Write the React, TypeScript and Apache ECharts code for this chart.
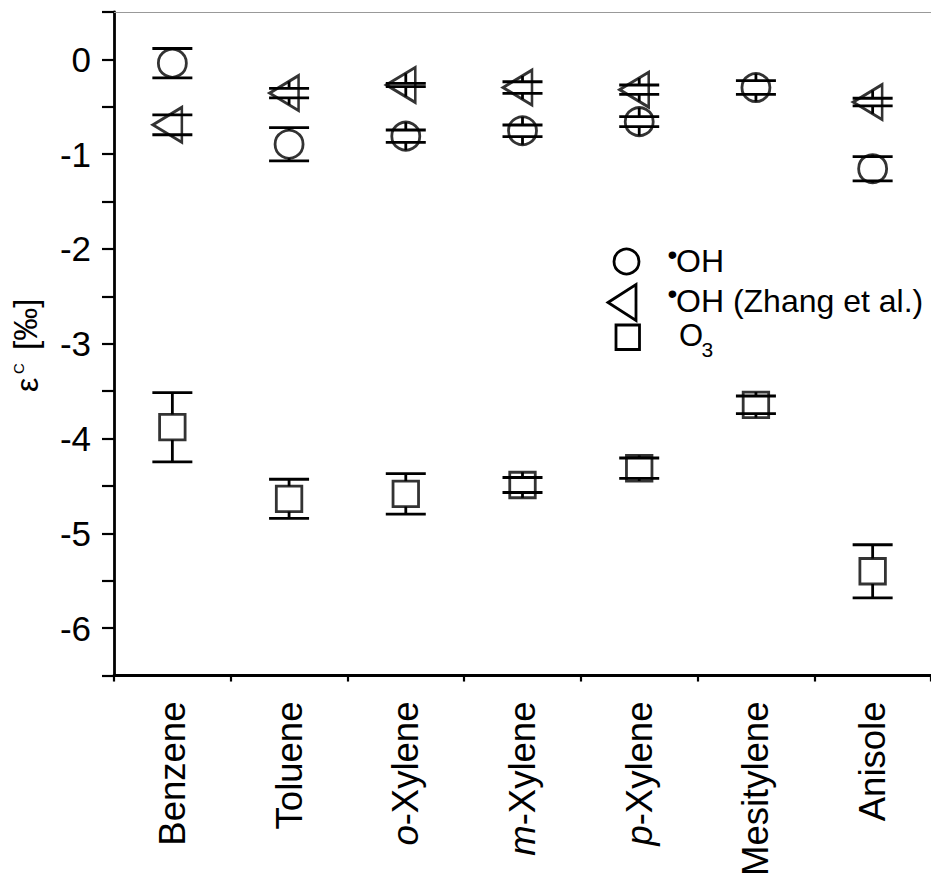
import React, { useEffect, useRef } from "react";
import * as echarts from "echarts";

const CATEGORIES = ["Benzene", "Toluene", "o-Xylene", "m-Xylene", "p-Xylene", "Mesitylene", "Anisole"];

const OH_VALUES = [-0.04, -0.895, -0.81, -0.753, -0.657, -0.297, -1.153];
const OH_ERRORS = [0.155, 0.175, 0.065, 0.061, 0.053, 0.072, 0.128];

const ZHANG_VALUES: (number | null)[] = [-0.69, -0.355, -0.27, -0.297, -0.32, null, -0.45];
const ZHANG_ERRORS: (number | null)[] = [0.105, 0.05, 0.018, 0.061, 0.05, null, 0.04];

const O3_VALUES = [-3.88, -4.636, -4.583, -4.49, -4.313, -3.644, -5.4];
const O3_ERRORS = [0.365, 0.207, 0.214, 0.079, 0.108, 0.093, 0.28];

const Y_MIN = -6.5;
const Y_MAX = 0.5;
const Y_STEP = 0.5;

const FONT = "Liberation Sans, Arial, sans-serif";
const TRIANGLE = "path://M0,10L20,0L20,20Z";
const LW = 2.8;

function pairs(values: (number | null)[], errors: (number | null)[]) {
  return values
    .map((v, i) => [i, v, errors[i]] as [number, number | null, number | null])
    .filter((d) => d[1] !== null);
}

function errorSeries(values: (number | null)[], errors: (number | null)[], half: number) {
  return {
    type: "custom",
    data: pairs(values, errors),
    encode: { x: 0, y: 1 },
    z: 2,
    renderItem: (params: any, api: any) => {
      const x = api.value(0);
      const v = api.value(1);
      const e = api.value(2);
      const c = api.coord([x, v]);
      const top = api.coord([x, v + e]);
      const bot = api.coord([x, v - e]);
      const cap = 20;
      const st = { stroke: "#000", lineWidth: LW, fill: null };
      return {
        type: "group",
        children: [
          { type: "line", shape: { x1: c[0] - cap, y1: top[1], x2: c[0] + cap, y2: top[1] }, style: st },
          { type: "line", shape: { x1: c[0] - cap, y1: bot[1], x2: c[0] + cap, y2: bot[1] }, style: st },
          { type: "line", shape: { x1: c[0], y1: top[1], x2: c[0], y2: c[1] - half }, style: st },
          { type: "line", shape: { x1: c[0], y1: bot[1], x2: c[0], y2: c[1] + half }, style: st },
        ],
      };
    },
  };
}

const markerStyle = { color: "rgba(0,0,0,0)", borderColor: "#000", borderWidth: LW };

function txt(text: string, x: number, y: number, fontSize: number, extra: any = {}) {
  return {
    type: "text",
    x,
    y,
    style: {
      text,
      fontSize,
      fontFamily: FONT,
      fill: "#000",
      verticalAlign: "middle",
      align: "left",
      ...extra,
    },
  };
}

export default function App() {
  const ref = useRef<HTMLDivElement>(null);
  useEffect(() => {
    if (!ref.current) return;
    const chart = echarts.init(ref.current, null, { renderer: "svg" });
    const labelRich = {
      i: { fontStyle: "italic", fontSize: 36.5, fontFamily: FONT, color: "#000" },
      r: { fontSize: 36.5, fontFamily: FONT, color: "#000" },
    };
    const tickStyle = { color: "#000", width: 2.2 };
    const stroke = { fill: "none", stroke: "#000", lineWidth: LW };
    chart.setOption({
      animation: false,
      backgroundColor: "#fff",
      grid: { left: 114, right: -9, top: 12, bottom: 202, containLabel: false },
      xAxis: [
        {
          type: "category",
          data: CATEGORIES,
          position: "bottom",
          boundaryGap: true,
          axisLine: { onZero: false, lineStyle: { color: "#000", width: LW } },
          axisTick: { alignWithLabel: true, length: 13, interval: 0, lineStyle: tickStyle },
          axisLabel: {
            interval: 0,
            rotate: 90,
            margin: 26,
            fontSize: 36.5,
            fontFamily: FONT,
            color: "#000",
            formatter: (v: string) => {
              const m = v.match(/^([omp])-(.*)$/);
              return m ? `{i|${m[1]}}{r|-${m[2]}}` : `{r|${v}}`;
            },
            rich: labelRich,
          },
          splitLine: { show: false },
        },
        {
          type: "category",
          data: CATEGORIES,
          position: "bottom",
          boundaryGap: true,
          axisLine: { show: false, onZero: false },
          axisTick: { show: true, length: 6, interval: 0, lineStyle: tickStyle },
          axisLabel: { show: false },
          splitLine: { show: false },
        },
        {
          type: "category",
          data: CATEGORIES,
          position: "top",
          boundaryGap: true,
          axisLine: { onZero: false, lineStyle: { color: "#999", width: 1 } },
          axisTick: { show: false },
          axisLabel: { show: false },
          splitLine: { show: false },
        },
      ],
      yAxis: {
        type: "value",
        min: Y_MIN,
        max: Y_MAX,
        interval: Y_STEP,
        axisLine: { show: true, onZero: false, lineStyle: { color: "#000", width: LW } },
        axisTick: { show: true, length: 12, lineStyle: tickStyle },
        axisLabel: {
          margin: 23,
          fontSize: 35,
          fontFamily: FONT,
          color: "#000",
          formatter: (v: number) => (Number.isInteger(v) ? String(v) : ""),
        },
        splitLine: { show: false },
      },
      series: [
        errorSeries(OH_VALUES, OH_ERRORS, 14),
        errorSeries(ZHANG_VALUES, ZHANG_ERRORS, 11.7),
        errorSeries(O3_VALUES, O3_ERRORS, 12.75),
        {
          type: "scatter",
          name: "•OH",
          data: pairs(OH_VALUES, OH_ERRORS).map((d) => [d[0], d[1]]),
          symbol: "circle",
          symbolSize: 28,
          itemStyle: markerStyle,
          z: 3,
        },
        {
          type: "scatter",
          name: "•OH (Zhang et al.)",
          data: pairs(ZHANG_VALUES, ZHANG_ERRORS).map((d) => [d[0], d[1]]),
          symbol: TRIANGLE,
          symbolSize: [29, 35],
          symbolOffset: [-5, 0],
          itemStyle: markerStyle,
          z: 3,
        },
        {
          type: "scatter",
          name: "O3",
          data: pairs(O3_VALUES, O3_ERRORS).map((d) => [d[0], d[1]]),
          symbol: "rect",
          symbolSize: 25.5,
          itemStyle: markerStyle,
          z: 3,
        },
      ],
      graphic: [
        // y-axis title, rotated to read bottom-to-top
        {
          type: "group",
          x: 0,
          y: 392,
          rotation: Math.PI / 2,
          children: [
            txt("ε", 0, 27, 32),
            txt("C", 18, 18, 15),
            txt("[‰]", 42, 25.6, 33),
          ],
        },
        // legend
        { type: "circle", shape: { cx: 626.5, cy: 261.5, r: 12.5 }, style: stroke },
        { type: "polygon", shape: { points: [[608, 302.5], [636, 284.5], [636, 320.5]] }, style: stroke },
        { type: "rect", shape: { x: 616, y: 325, width: 23.5, height: 24.5 }, style: stroke },
        txt("•", 672.5, 254, 28, { align: "center" }),
        txt("OH", 676, 261.2, 32),
        txt("•", 672.5, 293, 28, { align: "center" }),
        txt("OH (Zhang et al.)", 676, 300.8, 32),
        txt("O", 679, 335, 31),
        txt("3", 701.5, 349.2, 21),
      ],
    });
    return () => chart.dispose();
  }, []);
  return (
    <div
      ref={ref}
      style={{ position: "absolute", left: 0, top: 0, width: 931, height: 879, background: "#fff" }}
    />
  );
}
